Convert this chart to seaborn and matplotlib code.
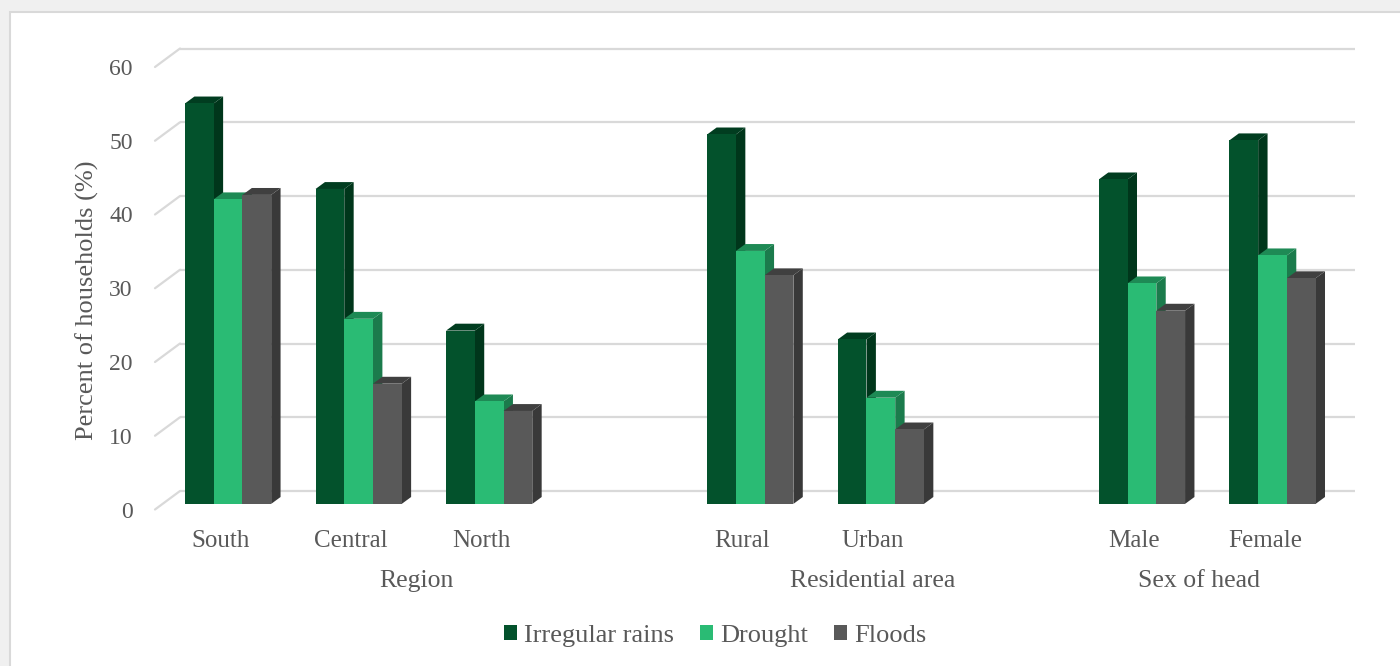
import numpy as np
import pandas as pd
import matplotlib
matplotlib.use("Agg")
import matplotlib.pyplot as plt
import seaborn as sns
from matplotlib.patches import Polygon, Rectangle, Patch
from matplotlib.transforms import blended_transform_factory

# ---------------- data ----------------
categories = ["South", "Central", "North", "Rural", "Urban", "Male", "Female"]
series = ["Irregular rains", "Drought", "Floods"]
irregular_rains = [54.3, 42.7, 23.5, 50.1, 22.3, 44.0, 49.3]
drought = [41.3, 25.1, 13.9, 34.3, 14.4, 29.9, 33.7]
floods = [41.9, 16.3, 12.6, 31.0, 10.1, 26.2, 30.6]
slot_order = ["South", "Central", "North", " ", "Rural", "Urban", "  ", "Male", "Female"]
group_labels = ["Region", "Residential area", "Sex of head"]
group_members = [["South", "Central", "North", " "], ["Rural", "Urban", "  "], ["Male", "Female"]]
y_ticks = [0, 10, 20, 30, 40, 50, 60]

front_colors = ["#03522C", "#2ABB74", "#595959"]
side_colors = ["#00361B", "#1B7B4C", "#393939"]
top_colors = ["#013D20", "#1E8A55", "#404040"]
text_color = "#595959"
grid_color = "#D9D9D9"

rows = []
for s, vals in zip(series, [irregular_rains, drought, floods]):
    for c, v in zip(categories, vals):
        rows.append({"category": c, "series": s, "value": v})
df = pd.DataFrame(rows)

sns.set_theme(style="white")
plt.rcParams["font.family"] = ["Liberation Serif", "DejaVu Serif"]

W, H = 1400, 666
fig = plt.figure(figsize=(W / 100, H / 100), dpi=100, facecolor="#F0F0F0")
# white chart panel with light border
fig.patches.append(Rectangle((10 / W, -0.1), 1.2, (H - 12) / H + 0.1, transform=fig.transFigure,
                             facecolor="white", edgecolor=grid_color, lw=1.5, zorder=-10))

left_px, right_px, bot_px, top_px = 155, 1330, 509.5, 67
ax = fig.add_axes([left_px / W, (H - bot_px) / H, (right_px - left_px) / W, (bot_px - top_px) / H])
ax.set_zorder(1)
ax.set_facecolor("none")

sns.barplot(data=df, x="category", y="value", hue="series", order=slot_order, hue_order=series,
            palette=front_colors, width=0.66, saturation=1, legend=False, ax=ax, linewidth=0)
bars = [p for p in ax.patches]

ax.set_xlim(-0.5, len(slot_order) - 0.5)
ax.set_ylim(0, 60)
ax.set_yticks(y_ticks)
for s in ax.spines.values():
    s.set_visible(False)
ax.grid(False)

sx = ax.bbox.width / (len(slot_order))   # px per x unit
sy = ax.bbox.height / 60.0                # px per y unit

# full depth of the 3D floor, bar placement and bar depth (in px)
Dx, Dy = 25 / sx, 18.5 / sy
ox, oy = 7.8 / sx, 5.6 / sy
dx, dy = 9.4 / sx, 6.9 / sy

# back-wall gridlines with slanted side lines
for t in y_ticks:
    ax.plot([-0.5 + Dx, len(slot_order) - 0.5 + Dx], [t + Dy, t + Dy], color=grid_color, lw=1.6,
            zorder=1, clip_on=False, solid_capstyle="butt")
    ax.plot([-0.5, -0.5 + Dx], [t, t + Dy], color=grid_color, lw=1.6, zorder=1, clip_on=False)

# 3D bars
front_hex = [matplotlib.colors.to_hex(c) for c in front_colors]
bars_sorted = sorted(bars, key=lambda p: p.get_x())
for k, p in enumerate(bars_sorted):
    fc = matplotlib.colors.to_hex(p.get_facecolor())
    idx = front_hex.index(fc)
    x0 = p.get_x() + ox
    w = p.get_width()
    h = p.get_height()
    x1 = x0 + w
    z = 3 + 0.01 * k
    p.set_x(x0)
    p.set_y(oy)
    p.set_clip_on(False)
    p.set_zorder(z + 0.002)
    p.set_linewidth(0)
    side = Polygon([(x1, oy), (x1, oy + h), (x1 + dx, oy + h + dy), (x1 + dx, oy + dy)],
                   closed=True, facecolor=side_colors[idx], edgecolor="none", zorder=z, clip_on=False)
    top = Polygon([(x0, oy + h), (x1, oy + h), (x1 + dx, oy + h + dy), (x0 + dx, oy + h + dy)],
                  closed=True, facecolor=top_colors[idx], edgecolor="none", zorder=z + 0.001, clip_on=False)
    ax.add_patch(side)
    ax.add_patch(top)

ax.tick_params(axis="y", length=0, pad=16, labelsize=17, labelcolor=text_color)
ax.tick_params(axis="x", length=0, pad=15, labelsize=18, labelcolor=text_color)
ax.set_xlabel("")
ax.set_ylabel("Percent of households (%)", fontsize=19, color=text_color)
ax.yaxis.set_label_coords((99 - left_px) / (right_px - left_px), (bot_px - 300) / (bot_px - top_px))

trans = blended_transform_factory(ax.transData, ax.transAxes)
for lab, members in zip(group_labels, group_members):
    xc = np.mean([slot_order.index(m) for m in members])
    ax.text(xc, (bot_px - 581) / (bot_px - top_px), lab, transform=trans, ha="center", va="center",
            fontsize=18.5, color=text_color)

handles = [Patch(facecolor=c, edgecolor="none") for c in front_colors]
fig.legend(handles, series, loc="center", bbox_to_anchor=(715 / W, 1 - 636 / H), ncol=3, frameon=False,
           fontsize=19, handlelength=0.5, handleheight=0.5, handletextpad=0.25, columnspacing=1.0,
           labelcolor=text_color)

fig.savefig("out.png", dpi=100, facecolor=fig.get_facecolor())
